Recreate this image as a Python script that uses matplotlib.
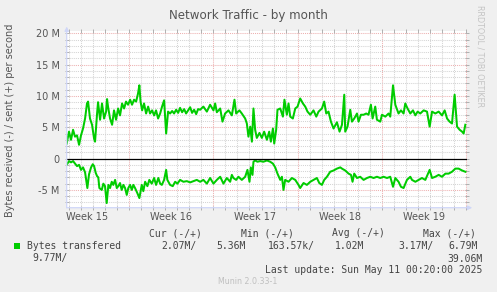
import matplotlib
matplotlib.use("Agg")
import matplotlib.pyplot as plt
from matplotlib.transforms import blended_transform_factory
import numpy as np

# ---------------- data ----------------
title = "Network Traffic - by month"
ylabel = "Bytes received (-) / sent (+) per second"
week_labels = ["Week 15", "Week 16", "Week 17", "Week 18", "Week 19"]
week_label_days = [1.72, 8.72, 15.72, 22.72, 29.72]
week_boundary_days = [5.22, 12.22, 19.22, 26.22, 33.22]
first_day_line = 0.22
span_days = 33.33
ytick_values = [-5, 0, 5, 10, 15, 20]
ytick_labels = ["-5 M", "0", "5 M", "10 M", "15 M", "20 M"]

# sent (+), MB/s, days since window start
sent_days = [0.00, 0.19, 0.36, 0.53, 0.69, 0.86, 1.03, 1.19, 1.36, 1.53, 1.69, 1.78, 1.94, 2.11,
             2.28, 2.36, 2.53, 2.61, 2.78, 2.94, 3.11, 3.28, 3.36, 3.44, 3.61, 3.78, 3.94, 4.11,
             4.28, 4.44, 4.61, 4.78, 4.94, 5.11, 5.28, 5.44, 5.61, 5.78, 5.94, 6.05, 6.15, 6.28,
             6.44, 6.61, 6.78, 6.94, 7.11, 7.28, 7.44, 7.61, 7.78, 7.94, 8.11, 8.28, 8.44, 8.61,
             8.78, 8.94, 9.11, 9.28, 9.44, 9.61, 9.78, 9.94, 10.11, 10.28, 10.44, 10.61, 10.78,
             10.94, 11.11, 11.38, 11.67, 11.94, 12.22, 12.36, 12.50, 12.78, 12.97, 13.19, 13.47,
             13.75, 13.97, 14.11, 14.38, 14.58, 14.86, 15.00, 15.13, 15.28, 15.42, 15.55, 15.69,
             15.83, 16.05, 16.25, 16.44, 16.67, 16.86, 17.00, 17.17, 17.28, 17.44, 17.55, 17.78,
             18.00, 18.13, 18.33, 18.47, 18.61, 18.83, 19.03, 19.22, 19.44, 19.67, 19.86, 20.05,
             20.28, 20.55, 20.78, 20.97, 21.25, 21.44, 21.61, 21.80, 22.00, 22.22, 22.50, 22.72,
             22.92, 23.11, 23.19, 23.38, 23.61, 23.75, 23.94, 24.17, 24.30, 24.50, 24.72, 24.94,
             25.13, 25.33, 25.47, 25.69, 25.83, 26.11, 26.25, 26.53, 26.80, 26.94, 27.17, 27.36,
             27.63, 27.83, 28.05, 28.19, 28.38, 28.61, 28.83, 29.03, 29.22, 29.44, 29.72, 30.00,
             30.22, 30.42, 30.69, 30.97, 31.25, 31.47, 31.67, 31.88, 32.08, 32.30, 32.50, 32.72,
             32.92, 33.05, 33.19]
sent_mb = [2.4, 4.3, 3.0, 4.6, 3.5, 3.7, 2.2, 3.7, 4.8, 6.4, 8.8, 9.1, 6.4, 5.4,
           3.2, 2.7, 7.2, 9.0, 6.2, 8.8, 6.4, 7.5, 9.5, 8.3, 6.4, 5.4, 7.7, 6.2,
           8.0, 6.9, 8.8, 8.0, 9.1, 8.6, 9.4, 8.6, 9.4, 9.1, 10.4, 11.7, 9.1, 7.7,
           8.8, 7.2, 8.3, 7.2, 7.7, 6.9, 7.7, 6.4, 7.2, 8.3, 9.3, 4.0, 7.5, 7.2,
           7.6, 7.2, 7.8, 7.3, 8.1, 7.4, 7.9, 7.2, 7.7, 8.2, 7.3, 7.8, 7.1,
           7.9, 7.8, 8.3, 7.5, 8.6, 7.7, 8.8, 7.4, 8.0, 5.9, 7.2, 7.7,
           6.9, 9.4, 7.2, 7.7, 7.2, 6.4, 5.6, 3.5, 5.1, 2.7, 8.0, 4.6,
           3.3, 4.1, 3.3, 4.3, 3.0, 4.3, 2.7, 4.8, 2.4, 4.6, 7.8, 8.0,
           6.7, 9.4, 7.0, 8.8, 6.7, 6.4, 8.0, 8.3, 9.6, 8.8, 8.3, 7.5,
           7.0, 7.7, 6.7, 7.5, 8.0, 9.1, 7.2, 7.5, 5.9, 4.8, 5.8, 4.3,
           5.4, 10.2, 4.3, 5.1, 7.8, 5.9, 6.4, 7.2, 5.9, 7.0, 7.0, 7.2,
           7.0, 8.6, 6.4, 8.3, 6.2, 5.9, 7.0, 6.7, 7.2, 6.7, 11.7, 8.6,
           7.2, 7.7, 7.2, 8.8, 8.0, 7.2, 7.7, 6.9, 7.5, 7.2, 7.7, 7.5,
           5.1, 7.5, 7.2, 7.5, 6.9, 7.7, 6.4, 5.9, 5.6, 10.2, 5.1, 4.6,
           4.3, 4.0, 5.4]

# received (-), MB/s magnitude, days since window start
recv_days = [0.03, 0.19, 0.36, 0.53, 0.69, 0.86, 1.03, 1.19, 1.36, 1.53, 1.72, 1.86, 2.03, 2.17,
             2.28, 2.42, 2.53, 2.63, 2.72, 2.92, 3.05, 3.19, 3.33, 3.47, 3.61, 3.75, 3.88, 4.03,
             4.17, 4.30, 4.44, 4.58, 4.72, 4.86, 5.00, 5.13, 5.28, 5.42, 5.55, 5.69, 5.88, 6.05,
             6.25, 6.38, 6.53, 6.72, 6.88, 7.08, 7.28, 7.44, 7.63, 7.78, 7.92, 8.11, 8.28, 8.38,
             8.61, 8.83, 9.03, 9.22, 9.44, 9.72, 10.00, 10.28, 10.55, 10.83, 11.11, 11.38, 11.67,
             11.94, 12.22, 12.50, 12.78, 13.05, 13.33, 13.61, 13.75, 13.88, 14.11, 14.30, 14.58,
             14.86, 15.05, 15.22, 15.33, 15.47, 15.55, 15.69, 15.88, 16.11, 16.38, 16.67, 16.94,
             17.17, 17.36, 17.55, 17.78, 17.92, 18.05, 18.19, 18.47, 18.75, 19.03, 19.30, 19.44,
             19.72, 20.00, 20.28, 20.55, 20.83, 21.03, 21.25, 21.44, 21.67, 21.94, 22.22, 22.50,
             22.78, 22.92, 23.19, 23.47, 23.67, 23.80, 23.94, 24.17, 24.44, 24.72, 25.00, 25.28,
             25.55, 25.83, 26.11, 26.38, 26.67, 26.94, 27.17, 27.36, 27.63, 27.83, 28.05, 28.33,
             28.61, 28.75, 29.03, 29.30, 29.58, 29.86, 30.22, 30.42, 30.69, 30.97, 31.25, 31.53,
             31.80, 32.08, 32.36, 32.63, 32.92, 33.19]
recv_mb = [0.9, 0.4, 0.6, 0.4, 0.8, 1.2, 1.0, 1.8, 1.4, 2.2, 4.7, 2.5, 1.4, 0.9,
           1.2, 2.3, 2.8, 3.0, 4.7, 5.0, 4.0, 4.4, 7.1, 4.2, 4.7, 3.7, 4.2, 3.4,
           4.7, 4.4, 3.9, 5.0, 4.2, 4.7, 5.8, 4.7, 4.2, 5.0, 4.2, 4.7, 5.5, 6.3,
           4.2, 5.2, 3.7, 4.4, 3.4, 4.0, 3.1, 4.2, 3.1, 4.0, 4.2, 3.4, 1.8, 3.4,
           4.2, 4.4, 3.7, 4.0, 3.4, 3.7, 3.6, 3.8, 3.6, 3.4, 3.7, 3.4, 4.0,
           3.1, 4.0, 3.4, 2.9, 4.0, 3.1, 3.7, 2.6, 3.1, 3.4, 2.9, 3.4,
           2.9, 1.8, 3.7, 1.4, 2.6, 0.5, 0.3, 0.5, 0.4, 0.5, 0.3, 0.5,
           0.8, 1.4, 2.4, 3.4, 2.9, 5.0, 3.4, 3.7, 3.1, 3.4, 4.2, 4.7,
           3.9, 4.2, 3.7, 3.4, 3.1, 3.9, 4.2, 3.4, 2.9, 2.1, 1.9, 1.6,
           1.4, 1.6, 1.9, 2.4, 2.6, 3.7, 2.4, 3.1, 2.9, 3.4, 3.1, 2.9,
           3.1, 2.9, 3.1, 2.9, 3.1, 2.9, 4.5, 3.1, 3.7, 4.5, 4.7, 3.4,
           2.9, 3.4, 3.7, 3.4, 3.1, 3.4, 1.8, 3.1, 2.9, 2.6, 2.9, 2.4,
           2.4, 2.1, 1.6, 1.6, 1.9, 2.1]

legend_name = "Bytes transfered"
legend_headers = ["Cur (-/+)", "Min (-/+)", "Avg (-/+)", "Max (-/+)"]
legend_row1 = ["2.07M/", "5.36M", "163.57k/", "1.02M", "3.17M/", "6.79M"]
legend_row2 = ["9.77M/", "39.06M"]
last_update = "Last update: Sun May 11 00:20:00 2025"
footer = "Munin 2.0.33-1"
watermark = "RRDTOOL / TOBI OETIKER"

# ---------------- drawing ----------------
W, H, DPI = 497, 292, 100
BG = "#F0F0F0"
FONT = "#555555"
GREEN = "#00CC00"
MINOR = "#D4D4D4"
MAJOR = "#EDB0B0"
AXIS = "#CFD6F8"

fig = plt.figure(figsize=(W / DPI, H / DPI), dpi=DPI, facecolor=BG)


def fx(px):
    return px / W


def fy(py):
    return 1 - py / H


ax_l, ax_r, ax_t, ax_b = 66.7, 467.0, 31.0, 207.7
ax = fig.add_axes([fx(ax_l), fy(ax_b), fx(ax_r - ax_l), (ax_b - ax_t) / H])
ax.set_facecolor("white")
ymin, ymax = -7.84, 20.37
ax.set_xlim(0, span_days)
ax.set_ylim(ymin, ymax)
for s in ax.spines.values():
    s.set_visible(False)

dot = (0, (1, 1))
# vertical grid
d = first_day_line
day_lines = []
while d < span_days:
    day_lines.append(d)
    d += 1.0
for d in day_lines:
    is_major = any(abs(d - w) < 0.05 for w in week_boundary_days)
    ax.axvline(d, color=MAJOR if is_major else MINOR, lw=0.75, ls=dot, zorder=1)
# horizontal grid
for v in range(-7, 21):
    if v == 0:
        continue
    ax.axhline(v, color=MAJOR if v % 5 == 0 else MINOR, lw=0.75, ls=dot, zorder=1)

# ticks
ax.set_xticks(day_lines)
ax.tick_params(axis="x", which="both", direction="inout", length=3, width=0.7,
               colors="#B0B0B0", top=True, bottom=True, labelbottom=False)
ax.set_yticks(ytick_values)
ax.set_yticklabels(ytick_labels)
ax.set_yticks(range(-7, 21), minor=True)
ax.tick_params(axis="y", which="both", direction="inout", length=3, width=0.7,
               color="#B0B0B0", left=True, right=True, labelcolor=FONT,
               labelsize=7, pad=3.5)

# data
ax.plot(sent_days, sent_mb, color=GREEN, lw=1.45, zorder=3, solid_joinstyle="round")
ax.plot(recv_days, -np.array(recv_mb), color=GREEN, lw=1.45, zorder=3, solid_joinstyle="round")
ax.axhline(0, color="black", lw=0.9, zorder=4)

# axis lines with arrows
ax.annotate("", xy=(0, 1.025), xytext=(0, 0), xycoords="axes fraction",
            arrowprops=dict(arrowstyle="-|>", color=AXIS, lw=0.9, mutation_scale=6,
                            shrinkA=0, shrinkB=0), annotation_clip=False, zorder=5)
ax.annotate("", xy=(1.013, 0), xytext=(0, 0), xycoords="axes fraction",
            arrowprops=dict(arrowstyle="-|>", color=AXIS, lw=0.9, mutation_scale=6,
                            shrinkA=0, shrinkB=0), annotation_clip=False, zorder=5)

# week labels
tr = blended_transform_factory(ax.transData, fig.transFigure)
for lab, d in zip(week_labels, week_label_days):
    ax.text(d, fy(220.5), lab, transform=tr, ha="center", va="baseline",
            fontsize=7, color=FONT)

# titles
fig.text(fx(248), fy(18.5), title, ha="center", va="baseline", fontsize=8.6, color=FONT)
fig.text(fx(10), fy(120), ylabel, rotation=90, ha="center", va="center",
         fontsize=7, color=FONT)
fig.text(fx(480), fy(5), watermark, rotation=270, ha="center", va="top",
         fontsize=5.8, color="#C4C4C4")

# legend
mono = "DejaVu Sans Mono"
LEG = "#444444"
for txt, x in zip(legend_headers, [149, 240.7, 331.7, 423]):
    fig.text(fx(x), fy(236.3), txt, ha="left", va="baseline", fontsize=7,
             family=mono, color=LEG)
fig.patches.append(plt.Rectangle((fx(14), fy(248.5)), fx(6), 6 / H,
                                 transform=fig.transFigure, facecolor=GREEN,
                                 edgecolor="none"))
fig.text(fx(27), fy(249), legend_name, ha="left", va="baseline", fontsize=7,
         family=mono, color=LEG)
for txt, x in zip(legend_row1, [161.7, 216.7, 268, 335, 398, 448]):
    fig.text(fx(x), fy(249), txt, ha="left", va="baseline", fontsize=7,
             family=mono, color=LEG)
fig.text(fx(32.7), fy(261.5), legend_row2[0], ha="left", va="baseline", fontsize=7,
         family=mono, color=LEG)
fig.text(fx(482.7), fy(261.5), legend_row2[1], ha="right", va="baseline", fontsize=7,
         family=mono, color=LEG)
fig.text(fx(482.7), fy(273), last_update, ha="right", va="baseline", fontsize=7,
         family=mono, color=LEG)
fig.text(fx(248), fy(283.5), footer, ha="center", va="baseline", fontsize=5.7,
         color="#C0C0C0")

fig.savefig("out.png", dpi=DPI, facecolor=BG)
